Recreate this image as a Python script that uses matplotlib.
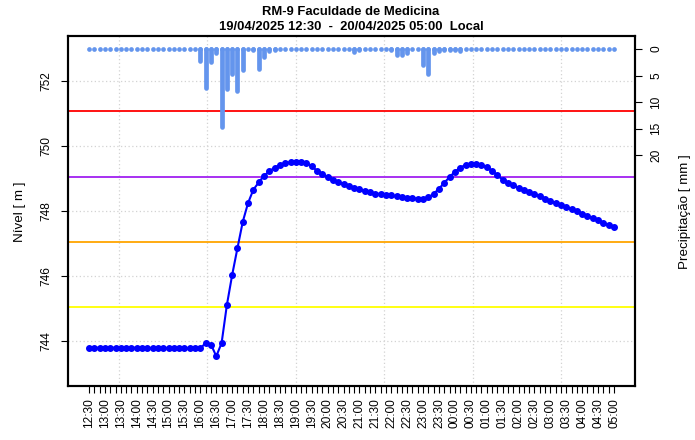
import numpy as np
import pandas as pd
import matplotlib
matplotlib.use("Agg")
import matplotlib.pyplot as plt

plt.rcParams["font.family"] = ["Liberation Sans", "DejaVu Sans"]

TITLE = "RM-9 Faculdade de Medicina"
SUBTITLE = "19/04/2025 12:30  -  20/04/2025 05:00  Local"
START = "2025-04-19 12:30"
END = "2025-04-20 05:00"

times = pd.date_range(START, END, freq="10min")

# nivel [m], one reading per 10 min
nivel = [743.78] * 11 + [743.77] * 6 + [743.76] * 5 + [
    743.93, 743.88, 743.52, 743.92, 745.10, 746.03, 746.86, 747.67, 748.25, 748.66,
    748.88, 749.09, 749.22, 749.34, 749.42, 749.47, 749.50, 749.51, 749.51, 749.48,
    749.38, 749.24, 749.14, 749.05, 748.97, 748.90, 748.83, 748.77, 748.72, 748.67,
    748.62, 748.58, 748.54, 748.52, 748.50, 748.48, 748.45, 748.42, 748.40, 748.39,
    748.38, 748.38, 748.42, 748.53, 748.69, 748.87, 749.05, 749.21, 749.34, 749.42,
    749.44, 749.45, 749.43, 749.36, 749.24, 749.10, 748.97, 748.86, 748.79, 748.72,
    748.66, 748.59, 748.52, 748.45, 748.38, 748.31, 748.25, 748.19, 748.12, 748.06,
    747.99, 747.92, 747.85, 747.78, 747.71, 747.64, 747.57, 747.50,
]

# chuva [mm] per 10 min
chuva = [0.0] * 21 + [
    2.2, 7.4, 2.4, 0.8, 14.6, 7.6, 4.8, 8.0, 4.0, 0.0, 0.2, 3.8, 1.6, 0.4, 0.2,
] + [0.0] * 14 + [0.6, 0.2] + [0.0] * 5 + [
    0.2, 1.2, 1.2, 0.8, 0.0, 0.0, 3.0, 4.8, 0.8, 0.4, 0.2, 0.2, 0.2, 0.4,
] + [0.0] * 29

limiares = [751.1, 749.05, 747.05, 745.05]
cores_limiares = ["#FF0000", "#A020F0", "#FFA500", "#FFFF00"]

nivel_ticks = [744, 746, 748, 750, 752]
chuva_ticks = [0, 5, 10, 15, 20]

TICK_FS = 8.6
LABEL_FS = 9.6

# x in minutes from start
x = (times - times[0]).total_seconds().values / 60.0
span = x[-1] - x[0]

fig = plt.figure(figsize=(6.95, 4.4), dpi=100)
ax = fig.add_axes([68 / 695, 1 - 386 / 440, (635 - 68) / 695, (386 - 36) / 440])

ax.set_xlim(x[0] - 0.04 * span, x[-1] + 0.04 * span)
ax.set_ylim(743 - 0.4, 753 + 0.4)

# grid like R's grid(): vertical lines at pretty epoch seconds (10000 s)
t0 = pd.Timestamp(START + "-03:00")
e0 = t0.value / 1e9
e1 = e0 + span * 60
grid_e = np.arange(np.ceil(e0 / 10000) * 10000, e1 + 1, 10000)
for g in (grid_e - e0) / 60.0:
    ax.axvline(g, color="#d3d3d3", lw=0.9, ls=(0, (1, 2)), zorder=0)
for v in nivel_ticks:
    ax.axhline(v, color="#d3d3d3", lw=0.9, ls=(0, (1, 2)), zorder=0)

for v, c in zip(limiares, cores_limiares):
    ax.axhline(v, color=c, lw=1.3, zorder=2)

ax.plot(x, nivel, color="#0000FF", lw=1.5, marker="o", ms=4, zorder=3)

ax.set_yticks(nivel_ticks)
ax.set_yticklabels([str(v) for v in nivel_ticks], rotation=90, va="center", fontsize=TICK_FS)

labels = [t.strftime("%H:%M") if i % 3 == 0 else "" for i, t in enumerate(times)]
ax.set_xticks(x)
ax.set_xticklabels(labels, rotation=90, fontsize=TICK_FS)
ax.tick_params(axis="x", length=5, width=0.8, pad=4)
ax.tick_params(axis="y", length=5, width=0.8, pad=6)

# precipitation on inverted right axis
ax2 = ax.twinx()
ax2.set_ylim(61 + 0.04 * 61, -0.04 * 61)
lc = ax2.vlines(x, 0, chuva, color="#6495ED", lw=3.4, zorder=3)
lc.set_capstyle("round")
ax2.plot(x, np.zeros(len(x)), ls="none", marker="o", ms=3.4, color="#6495ED",
         markeredgewidth=0, zorder=3)
ax2.set_yticks(chuva_ticks)
ax2.set_yticklabels([str(v) for v in chuva_ticks], rotation=90, va="center", fontsize=TICK_FS)
ax2.tick_params(axis="y", length=5, width=0.8, pad=6)

for a in (ax, ax2):
    for s in a.spines.values():
        s.set_linewidth(1.5)

fig.text(20 / 695, 1 - 212 / 440, "Nível [ m ]", rotation=90, ha="center", va="center",
         fontsize=LABEL_FS)
fig.text(685 / 695, 1 - 212 / 440, "Precipitação [ mm ]", rotation=90, ha="center",
         va="center", fontsize=LABEL_FS)

fig.text(351 / 695, 1 - 12 / 440, TITLE, ha="center", va="center",
         fontsize=9.4, fontweight="bold")
fig.text(351 / 695, 1 - 27 / 440, SUBTITLE, ha="center", va="center",
         fontsize=9.4, fontweight="bold")

fig.savefig("out.png", dpi=100)
